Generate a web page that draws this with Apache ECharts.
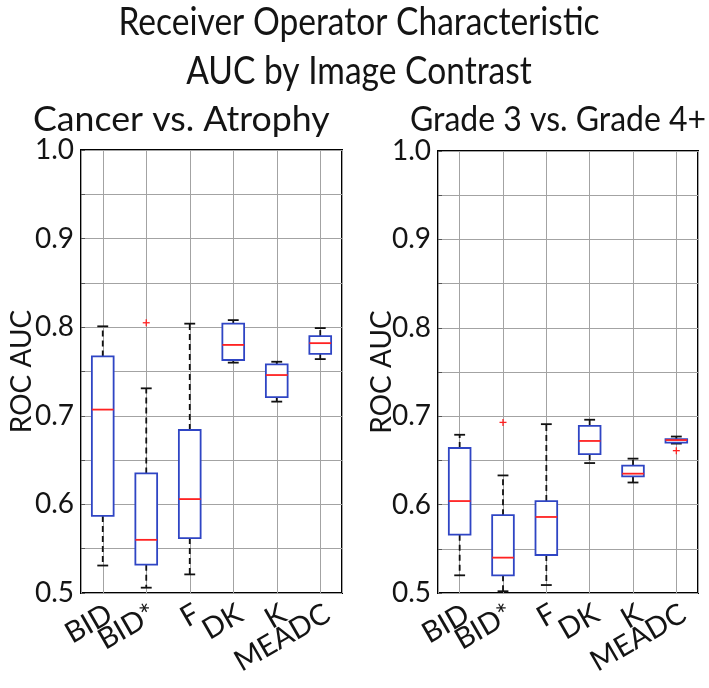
<!DOCTYPE html>
<html>
<head>
<meta charset="utf-8">
<script src="https://cdn.jsdelivr.net/npm/echarts@6/dist/echarts.min.js"></script>
<style>
html,body{margin:0;padding:0;background:#fff;}
#chart{width:709px;height:688px;}
</style>
</head>
<body>
<div id="chart"></div>
<script>
// Data
const categories = ['BID', 'BID*', 'F', 'DK', 'K', 'MEADC'];
const titleLines = ['Receiver Operator Characteristic', 'AUC by Image Contrast'];
const panelTitles = ['Cancer vs. Atrophy', 'Grade 3 vs. Grade 4+'];
const yAxisName = 'ROC AUC';
// [min, q1, median, q3, max] per category
const cancerStats = [
  [0.531, 0.587, 0.707, 0.767, 0.801],
  [0.506, 0.532, 0.560, 0.635, 0.731],
  [0.521, 0.562, 0.606, 0.684, 0.804],
  [0.760, 0.763, 0.780, 0.804, 0.808],
  [0.716, 0.721, 0.746, 0.758, 0.761],
  [0.764, 0.770, 0.782, 0.790, 0.799]
];
const cancerOutliers = [[2, 0.805]]; // [category position, value]
const gradeStats = [
  [0.520, 0.566, 0.604, 0.664, 0.679],
  [0.502, 0.520, 0.540, 0.588, 0.633],
  [0.509, 0.543, 0.586, 0.604, 0.691],
  [0.647, 0.657, 0.672, 0.689, 0.696],
  [0.625, 0.632, 0.635, 0.644, 0.652],
  [0.669, 0.670, 0.673, 0.674, 0.677]
];
const gradeOutliers = [[2, 0.693], [6, 0.661]];

const FONT = 'Lato';
const BLUE = '#2f45c4';
const RED = '#ff2222';
const TXT = '#141414';

function boxData(stats) {
  return stats.map((s, i) => [i + 1].concat(s));
}

function renderBox(params, api) {
  const x = api.value(0);
  const mn = api.coord([x, api.value(1)]);
  const q1 = api.coord([x, api.value(2)]);
  const md = api.coord([x, api.value(3)]);
  const q3 = api.coord([x, api.value(4)]);
  const mx = api.coord([x, api.value(5)]);
  const hw = api.size([0.25, 0])[0];
  const cw = api.size([0.125, 0])[0];
  const cx = mn[0];
  const dash = {stroke: '#111', lineWidth: 1.8, lineDash: [6, 4]};
  const solid = {stroke: '#111', lineWidth: 1.8};
  return {
    type: 'group',
    children: [
      {type: 'line', shape: {x1: cx, y1: q3[1], x2: cx, y2: mx[1]}, style: dash},
      {type: 'line', shape: {x1: cx, y1: q1[1], x2: cx, y2: mn[1]}, style: dash},
      {type: 'line', shape: {x1: cx - cw, y1: mx[1], x2: cx + cw, y2: mx[1]}, style: solid},
      {type: 'line', shape: {x1: cx - cw, y1: mn[1], x2: cx + cw, y2: mn[1]}, style: solid},
      {type: 'rect', shape: {x: cx - hw, y: q3[1], width: 2 * hw, height: q1[1] - q3[1]},
        style: {fill: '#fff', stroke: BLUE, lineWidth: 1.8}},
      {type: 'line', shape: {x1: cx - hw, y1: md[1], x2: cx + hw, y2: md[1]},
        style: {stroke: RED, lineWidth: 1.8}}
    ]
  };
}

function renderPlus(params, api) {
  const p = api.coord([api.value(0), api.value(1)]);
  const r = 3.5;
  const st = {stroke: RED, lineWidth: 1.3};
  return {
    type: 'group',
    children: [
      {type: 'line', shape: {x1: p[0] - r, y1: p[1], x2: p[0] + r, y2: p[1]}, style: st},
      {type: 'line', shape: {x1: p[0], y1: p[1] - r, x2: p[0], y2: p[1] + r}, style: st}
    ]
  };
}

function xAxisCfg(gi) {
  return {
    type: 'value', gridIndex: gi, min: 0.5, max: 6.5, splitNumber: 6,
    minInterval: 1, maxInterval: 1,
    axisLine: {show: false},
    axisTick: {show: false},
    splitLine: {show: true, lineStyle: {color: '#a3a3a3', width: 1}},
    axisLabel: {
      rotate: 30, margin: 6, fontFamily: FONT, fontSize: 29, color: TXT,
      verticalAlign: 'top',
      showMinLabel: false, showMaxLabel: false,
      formatter: v => (Math.abs(v - Math.round(v)) < 1e-6 && v >= 1 && v <= 6) ? categories[Math.round(v) - 1] : ''
    }
  };
}

function yAxisCfg(gi, gap) {
  return {
    type: 'value', gridIndex: gi, min: 0.5, max: 1.0, interval: 0.05,
    name: yAxisName, nameLocation: 'middle', nameGap: gap, nameMoveOverlap: false,
    nameTextStyle: {fontFamily: FONT, fontSize: 28, color: TXT},
    axisLine: {show: false},
    axisTick: {show: true, inside: true, length: 4, lineStyle: {color: '#555'}},
    splitLine: {show: true, lineStyle: {color: '#a3a3a3', width: 1}},
    axisLabel: {
      margin: 7, fontFamily: FONT, fontSize: 28, color: TXT,
      formatter: v => (Math.abs(v * 10 - Math.round(v * 10)) < 1e-6) ? v.toFixed(1) : ''
    }
  };
}

const chart = echarts.init(document.getElementById('chart'), null, {renderer: 'canvas'});
chart.setOption({
  animation: false,
  backgroundColor: '#fff',
  grid: [
    {left: 81, top: 150, width: 261, height: 443, show: true, borderColor: '#000', borderWidth: 2, backgroundColor: 'transparent'},
    {left: 438, top: 151, width: 260, height: 442, show: true, borderColor: '#000', borderWidth: 2, backgroundColor: 'transparent'}
  ],
  xAxis: [xAxisCfg(0), xAxisCfg(1)],
  yAxis: [yAxisCfg(0, 45), yAxisCfg(1, 42)],
  graphic: [
    {type: 'text', x: 359, y: 42, scaleX: 0.86,
      style: {text: titleLines[0], fontFamily: FONT, fontSize: 39, fill: TXT, textAlign: 'center', textVerticalAlign: 'bottom'}},
    {type: 'text', x: 359, y: 91, scaleX: 0.86,
      style: {text: titleLines[1], fontFamily: FONT, fontSize: 39, fill: TXT, textAlign: 'center', textVerticalAlign: 'bottom'}},
    {type: 'text', x: 33, y: 137, scaleX: 1.05,
      style: {text: panelTitles[0], fontFamily: FONT, fontSize: 34, fill: TXT, textAlign: 'left', textVerticalAlign: 'bottom'}},
    {type: 'text', x: 410, y: 137, scaleX: 0.94,
      style: {text: panelTitles[1], fontFamily: FONT, fontSize: 34, fill: TXT, textAlign: 'left', textVerticalAlign: 'bottom'}}
  ],
  series: [
    {type: 'custom', xAxisIndex: 0, yAxisIndex: 0, renderItem: renderBox, data: boxData(cancerStats), encode: {x: 0, y: [1, 2, 3, 4, 5]}, clip: false},
    {type: 'custom', xAxisIndex: 0, yAxisIndex: 0, renderItem: renderPlus, data: cancerOutliers, encode: {x: 0, y: 1}},
    {type: 'custom', xAxisIndex: 1, yAxisIndex: 1, renderItem: renderBox, data: boxData(gradeStats), encode: {x: 0, y: [1, 2, 3, 4, 5]}, clip: false},
    {type: 'custom', xAxisIndex: 1, yAxisIndex: 1, renderItem: renderPlus, data: gradeOutliers, encode: {x: 0, y: 1}}
  ]
});
</script>
</body>
</html>
